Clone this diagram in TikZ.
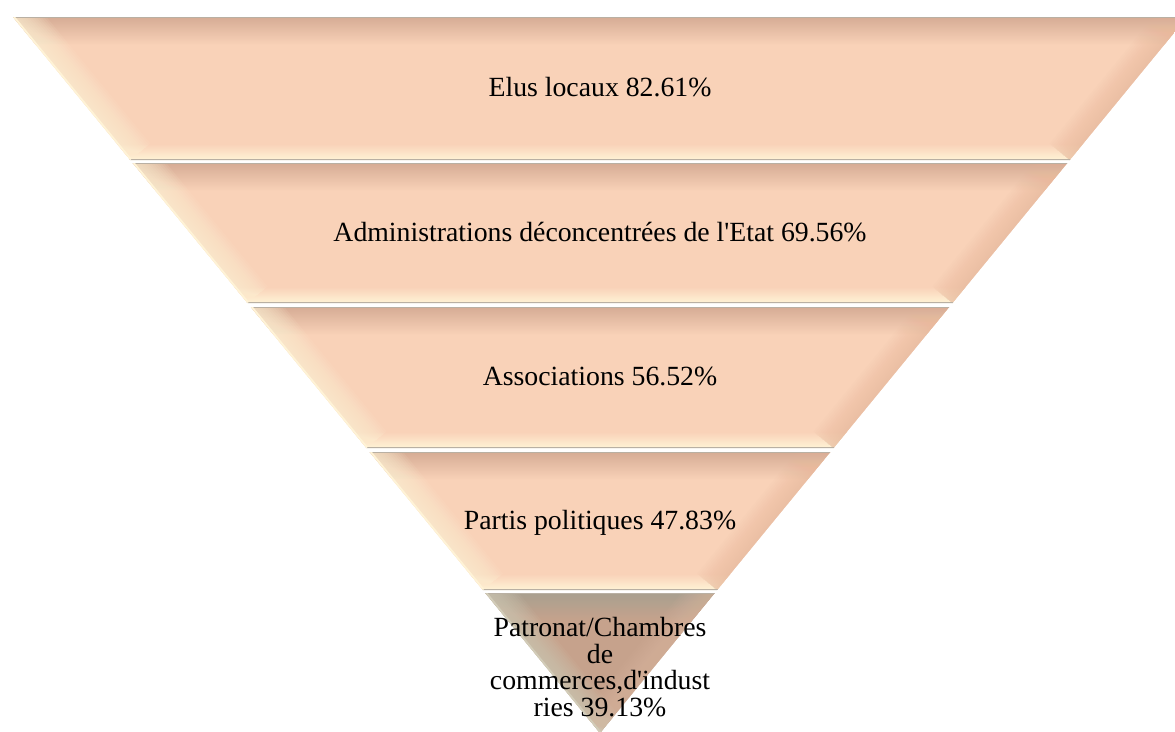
\documentclass[tikz,border=0pt]{standalone}
\usepackage{fontspec}
\setmainfont{Liberation Serif}

% band colours
\definecolor{peach}{HTML}{F9D2B8}
\definecolor{toptan}{HTML}{D6AC95}
\definecolor{cream}{HTML}{FFF3D6}
\definecolor{rosetan}{HTML}{E9B99C}
\definecolor{tanmain}{HTML}{C6A28C}
\definecolor{tantop}{HTML}{A9A08F}
\definecolor{sage}{HTML}{D2CCB8}
\definecolor{tanrose}{HTML}{DDB9A2}
\definecolor{rimgray}{HTML}{B9B0A3}

\begin{document}
\begin{tikzpicture}[x=0.02cm, y=-0.02cm,
    bandtext/.style={font=\fontsize{15.8}{15.1}\selectfont, text=black, inner sep=0pt}]

    % --- Canvas (pixel units, y grows downwards) ---
    \useasboundingbox (0,0) rectangle (1175,731);
    \clip (0,0) rectangle (1175,731);

    % --- Bands of the inverted pyramid ---
    % axis at x = 600, half width 587 at the top, shrinking 0.82 per unit down
    % top y / bottom y / fill / top shadow / left light / right shade
    \foreach \yt/\yb/\base/\rim/\lite/\deep in {
        17/160/peach/toptan/cream/rosetan,
        163/303/peach/toptan/cream/rosetan,
        307/448/peach/toptan/cream/rosetan,
        452/590/peach/toptan/cream/rosetan,
        593/733/tanmain/tantop/sage/tanrose} {
      \pgfmathsetmacro{\wt}{587-0.82*(\yt-17)}
      \pgfmathsetmacro{\wb}{max(587-0.82*(\yb-17),0)}
      \begin{scope}
        \clip (600-\wt,\yt) -- (600+\wt,\yt) -- (600+\wb,\yb) -- (600-\wb,\yb) -- cycle;
        \fill[\base] (0,\yt) rectangle (1200,\yb);
        % darker rim under the top edge
        \shade[top color=\rim, bottom color=\base] (0,\yt) rectangle (1200,\yt+28);
        % light rim over the bottom edge
        \shade[top color=\base, bottom color=\lite] (0,\yb-16) rectangle (1200,\yb);
        % bevels on the slanted sides, built up from soft strokes
        \foreach \lw in {4,8,...,52} {
          \draw[\lite, opacity=0.09, line width=\lw*0.567pt] (600-\wt,\yt) -- (600-\wb,\yb);
          \draw[\deep, opacity=0.07, line width=\lw*0.567pt] (600+\wt,\yt) -- (600+\wb,\yb);
        }
        % thin edges
        \draw[rimgray, line width=1.2pt] (0,\yt) -- (1200,\yt);
        \draw[rimgray, line width=1.2pt] (0,\yb) -- (1200,\yb);
        \draw[\lite, line width=2pt] (600-\wt,\yt) -- (600-\wb,\yb);
      \end{scope}
    }

    % --- Band labels ---
    \node[bandtext, anchor=base] (elus) at (600,96) {Elus locaux 82.61\%};
    \node[bandtext, anchor=base] (admin) at (600,241)
        {Administrations déconcentrées de l\textquotesingle Etat 69.56\%};
    \node[bandtext, anchor=base] (assoc) at (600,385) {Associations 56.52\%};
    \node[bandtext, anchor=base] (partis) at (600,529) {Partis politiques 47.83\%};
    \node[bandtext, align=center] (patronat) at (600,667)
        {Patronat/Chambres\\de\\commerces,d\textquotesingle indust\\ries 39.13\%};

\end{tikzpicture}
\end{document}
